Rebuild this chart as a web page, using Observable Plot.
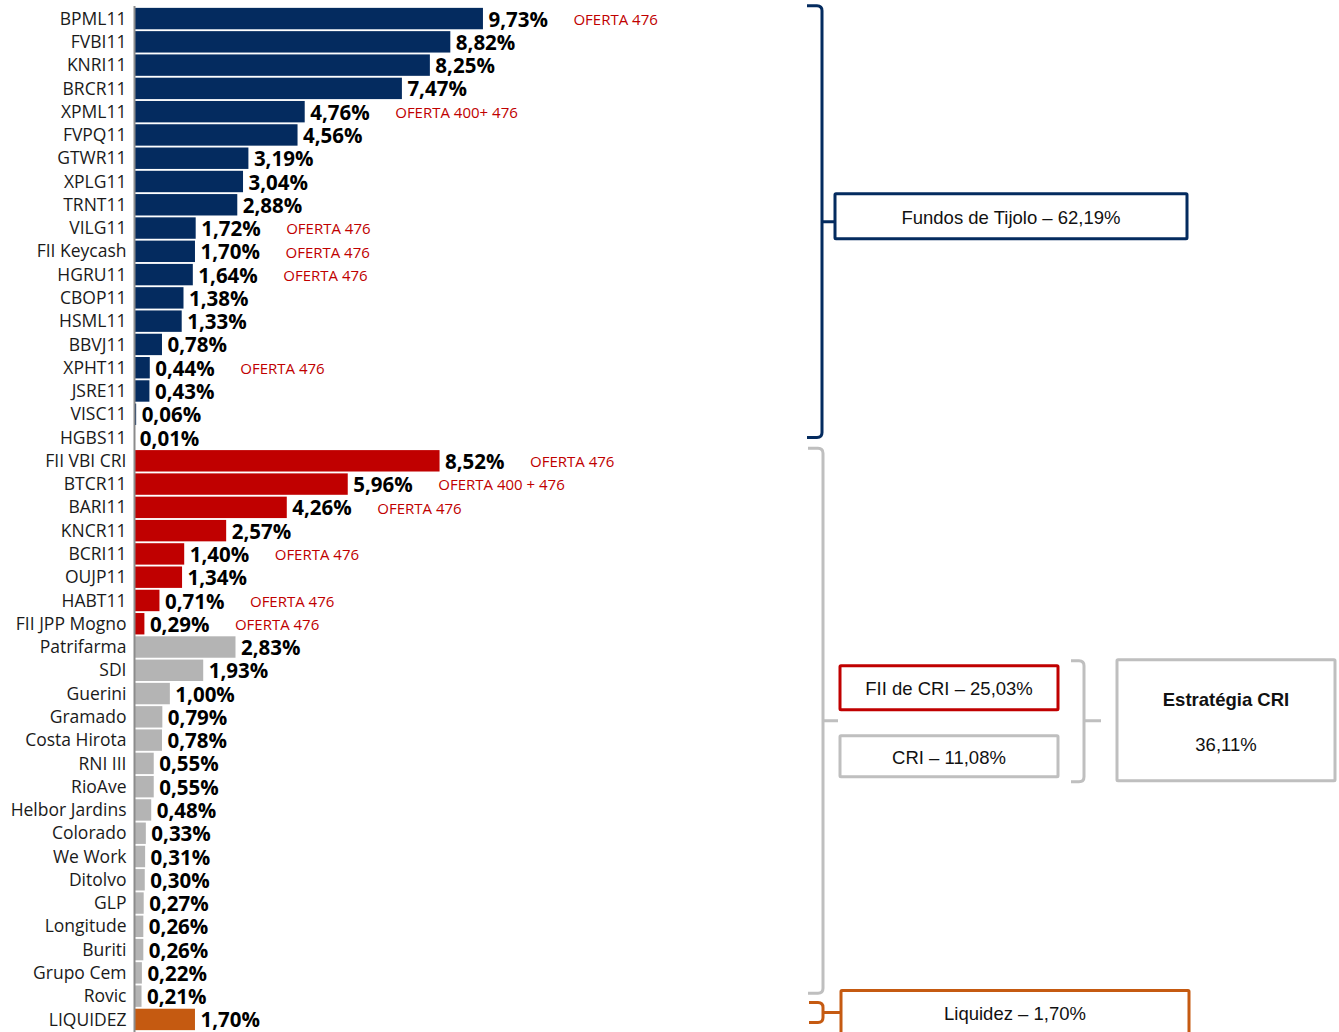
<!DOCTYPE html>
<html>
<head>
<meta charset="utf-8">
<script src="https://cdn.jsdelivr.net/npm/d3@7"></script>
<script src="https://cdn.jsdelivr.net/npm/@observablehq/plot@0.6"></script>
<style>
  html, body { margin: 0; padding: 0; background: #ffffff; }
  #chart svg { display: block; }
</style>
</head>
<body>
<div id="chart"></div>
<script>
// ---- Data ----
const tijoloNames = ["BPML11","FVBI11","KNRI11","BRCR11","XPML11","FVPQ11","GTWR11","XPLG11","TRNT11","VILG11","FII Keycash","HGRU11","CBOP11","HSML11","BBVJ11","XPHT11","JSRE11","VISC11","HGBS11"];
const tijoloValues = [9.73,8.82,8.25,7.47,4.76,4.56,3.19,3.04,2.88,1.72,1.70,1.64,1.38,1.33,0.78,0.44,0.43,0.06,0.01];

const fiiCriNames = ["FII VBI CRI","BTCR11","BARI11","KNCR11","BCRI11","OUJP11","HABT11","FII JPP Mogno"];
const fiiCriValues = [8.52,5.96,4.26,2.57,1.40,1.34,0.71,0.29];

const criNames = ["Patrifarma","SDI","Guerini","Gramado","Costa Hirota","RNI III","RioAve","Helbor Jardins","Colorado","We Work","Ditolvo","GLP","Longitude","Buriti","Grupo Cem","Rovic"];
const criValues = [2.83,1.93,1.00,0.79,0.78,0.55,0.55,0.48,0.33,0.31,0.30,0.27,0.26,0.26,0.22,0.21];

const liquidezNames = ["LIQUIDEZ"];
const liquidezValues = [1.70];

const noteNames = ["BPML11","XPML11","VILG11","FII Keycash","HGRU11","XPHT11","FII VBI CRI","BTCR11","BARI11","BCRI11","HABT11","FII JPP Mogno"];
const noteTexts = ["OFERTA 476","OFERTA 400+ 476","OFERTA 476","OFERTA 476","OFERTA 476","OFERTA 476","OFERTA 476","OFERTA 400 + 476","OFERTA 476","OFERTA 476","OFERTA 476","OFERTA 476"];

const groupKeys = ["tijolo","fiicri","cri","liquidez"];
const groupColors = ["#042B5F","#C00000","#B4B4B4","#C55A11"];
const summaryTexts = ["Fundos de Tijolo – 62,19%","FII de CRI – 25,03%","CRI – 11,08%","Liquidez – 1,70%"];
const strategyTitle = "Estratégia CRI";
const strategyValue = "36,11%";

// ---- Build table ----
const rows = [
  ...tijoloNames.map((n,i)=>({name:n, value:tijoloValues[i], group:"tijolo"})),
  ...fiiCriNames.map((n,i)=>({name:n, value:fiiCriValues[i], group:"fiicri"})),
  ...criNames.map((n,i)=>({name:n, value:criValues[i], group:"cri"})),
  ...liquidezNames.map((n,i)=>({name:n, value:liquidezValues[i], group:"liquidez"}))
];
const valueOf = new Map(rows.map(d=>[d.name,d.value]));
const notes = noteNames.map((n,i)=>({name:n, value:valueOf.get(n), text:noteTexts[i]}));
const fmt = v => v.toFixed(2).replace(".", ",") + "%";

const W = 1339, H = 1032;
const chart = Plot.plot({
  width: W, height: H,
  marginLeft: 134, marginRight: 0, marginTop: 6, marginBottom: 0,
  style: {fontFamily: "'Open Sans', sans-serif", fontSize: "17.5px", background: "white", color: "#1a1a1a", overflow: "visible"},
  x: {domain: [0, 33.6], axis: null},
  y: {domain: rows.map(d=>d.name), padding: 0.08, round: false, tickSize: 0, tickPadding: 8, label: null},
  color: {domain: groupKeys, range: groupColors},
  marks: [
    Plot.barX(rows, {x: "value", y: "name", fill: "group", inset: 0}),
    Plot.ruleX([0], {stroke: "#8c8c8c", strokeWidth: 2}),
    Plot.text(rows, {x: "value", y: "name", text: d => fmt(d.value), textAnchor: "start", dx: 5, dy: 1, fontSize: 20.5, fontWeight: 700, fill: "#000"}),
    Plot.text(notes, {x: "value", y: "name", text: "text", textAnchor: "start", dx: 90, dy: 1, fontSize: 15, fill: "#C00000"})
  ]
});
document.getElementById("chart").appendChild(chart);

// ---- Annotation brackets & boxes ----
const ys = chart.scale("y");
const bw = ys.bandwidth;
const yPos = n => (typeof ys.apply === "function") ? ys.apply(n) :
  d3.scaleBand(ys.domain, ys.range).paddingInner(0.08).paddingOuter(0.08)(n);
const rowTop = n => yPos(n), rowMid = n => yPos(n) + bw/2, rowBot = n => yPos(n) + bw;

const svg = d3.select(chart);
const g = svg.append("g").attr("fill", "none");
const boxFont = "'Liberation Sans', Arial, sans-serif";

function bracket(xv, xl, y0, y1, ym, xt, color, w) {
  const r = 5;
  g.append("path")
    .attr("d", `M${xl},${y0} L${xv-r},${y0} Q${xv},${y0} ${xv},${y0+r} L${xv},${y1-r} Q${xv},${y1} ${xv-r},${y1} L${xl},${y1} M${xv},${ym} L${xt},${ym}`)
    .attr("stroke", color).attr("stroke-width", w).attr("stroke-linejoin", "round");
}
function box(x0, x1, y0, y1, color, w) {
  g.append("rect").attr("x", x0).attr("y", y0).attr("width", x1-x0).attr("height", y1-y0)
    .attr("stroke", color).attr("stroke-width", w).attr("rx", 1).attr("fill", "white");
}
function label(x, y, t, bold) {
  svg.append("text").attr("x", x).attr("y", y).attr("text-anchor", "middle").attr("dominant-baseline", "central")
    .attr("font-family", boxFont).attr("font-size", 18.5).attr("font-weight", bold ? 700 : 400).attr("fill", "#111").text(t);
}

const navy = groupColors[0], red = groupColors[1], lgray = "#BFBFBF", orange = groupColors[3];

// Tijolo
const t0 = rowTop(tijoloNames[0]) - 2, t1 = rowMid(tijoloNames[tijoloNames.length-1]);
const tm = (t0 + t1) / 2;
bracket(822, 807, t0, t1, tm, 835, navy, 3);
box(835, 1187, tm - 28, tm + 17, navy, 3);
label(1011, tm - 4, summaryTexts[0]);

// CRI group bracket
const c0 = rowBot(tijoloNames[tijoloNames.length-1]), c1 = rowMid(criNames[criNames.length-1]) - 3;
const cm = (c0 + c1) / 2;
bracket(823, 808, c0, c1, cm, 838, lgray, 3);
box(840, 1058, cm - 55, cm - 11, red, 3);
label(949, cm - 32, summaryTexts[1]);
box(840, 1058, cm + 15, cm + 56, lgray, 3);
label(949, cm + 37, summaryTexts[2]);
bracket(1084, 1071, cm - 60, cm + 61, cm, 1101, lgray, 3);
box(1117, 1335, cm - 61, cm + 60, lgray, 3);
label(1226, cm - 21, strategyTitle, true);
label(1226, cm + 24, strategyValue);

// Liquidez
const lm = rowMid(liquidezNames[0]) - 7;
bracket(823, 809, lm - 10, lm + 10, lm, 840, orange, 3);
box(841, 1189, lm - 22, lm + 30, orange, 3);
label(1015, lm + 1, summaryTexts[3]);
</script>
</body>
</html>
